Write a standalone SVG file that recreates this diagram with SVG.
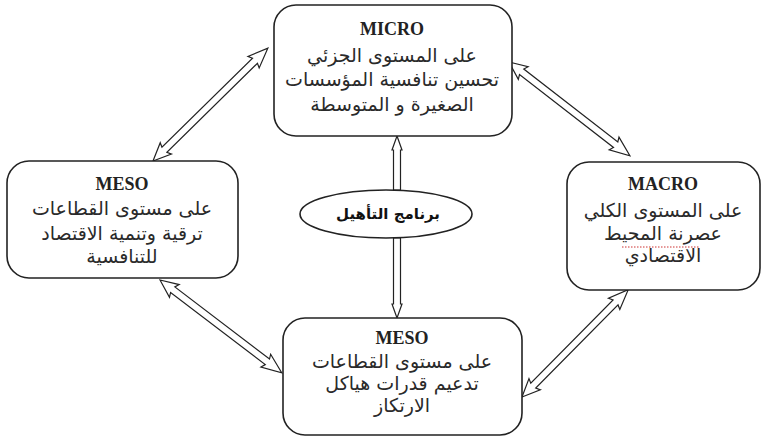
<svg xmlns="http://www.w3.org/2000/svg" width="762" height="439" viewBox="0 0 762 439">
<style>
.box{fill:#fff;stroke:#222;stroke-width:1.6}
.arr{fill:#fff;stroke:#222;stroke-width:1.2;stroke-linejoin:miter}
.lat{font-family:"Liberation Serif","Times New Roman",serif;font-weight:bold;font-size:18px;fill:#222;text-anchor:middle}
.ar{font-family:"DejaVu Sans","Noto Sans",sans-serif;font-size:19px;fill:#2a2a2a;text-anchor:middle;direction:rtl}
.arb{font-family:"DejaVu Sans","Noto Sans",sans-serif;font-size:15px;font-weight:bold;fill:#111;text-anchor:middle;direction:rtl}
</style>
<rect width="762" height="439" fill="#fff"/>
<g id="connectors">
<polygon class="arr" transform="translate(153,161) rotate(-44.5)" points="0,0 18,-8 16,-3.5 143,-3.5 141,-8 161,0 141,8 143,3.5 16,3.5 18,8"/>
<polygon class="arr" transform="translate(509,62) rotate(37.8)" points="0,0 18,-8 16,-3.5 135,-3.5 133,-8 153,0 133,8 135,3.5 16,3.5 18,8"/>
<polygon class="arr" transform="translate(160,280) rotate(37.3)" points="0,0 18,-8 16,-3.5 135,-3.5 133,-8 153,0 133,8 135,3.5 16,3.5 18,8"/>
<polygon class="arr" transform="translate(522,397) rotate(-45.3)" points="0,0 18,-8 16,-3.5 133,-3.5 131,-8 151,0 131,8 133,3.5 16,3.5 18,8"/>
<polygon class="arr" points="397,136 402,150 400.5,150 400.5,190 393.5,190 393.5,150 392,150"/>
<polygon class="arr" points="397,318 402,304 400.5,304 400.5,238 393.5,238 393.5,304 392,304"/>
</g>
<g id="micro">
<rect class="box" x="274" y="5" width="238" height="131" rx="22"/>
<text class="lat" x="392" y="35">MICRO</text>
<text class="ar" x="392" y="62">على المستوى الجزئي</text>
<text class="ar" x="392" y="86">تحسين تنافسية المؤسسات</text>
<text class="ar" x="392" y="111">الصغيرة و المتوسطة</text>
</g>
<g id="meso-left">
<rect class="box" x="7" y="161" width="231" height="117" rx="22"/>
<text class="lat" x="122" y="190">MESO</text>
<text class="ar" x="122" y="215">على مستوى القطاعات</text>
<text class="ar" x="122" y="240">ترقية وتنمية الاقتصاد</text>
<text class="ar" x="122" y="263">للتنافسية</text>
</g>
<g id="macro">
<rect class="box" x="567" y="162" width="193" height="128" rx="22"/>
<text class="lat" x="663" y="190">MACRO</text>
<text class="ar" x="663" y="217">على المستوى الكلي</text>
<text class="ar" x="663" y="240">عصرنة المحيط</text>
<line x1="622" y1="247" x2="700" y2="247" stroke="#c33" stroke-width="1" stroke-dasharray="1.5,1.5"/>
<text class="ar" x="663" y="262">الاقتصادي</text>
</g>
<g id="meso-bottom">
<rect class="box" x="283" y="318" width="239" height="117" rx="22"/>
<text class="lat" x="402" y="344">MESO</text>
<text class="ar" x="402" y="368">على مستوى القطاعات</text>
<text class="ar" x="402" y="390">تدعيم قدرات هياكل</text>
<text class="ar" x="402" y="412">الارتكاز</text>
</g>
<g id="program">
<ellipse class="box" cx="386" cy="214" rx="86" ry="24"/>
<text class="arb" x="388" y="219">برنامج التأهيل</text>
</g>
</svg>
